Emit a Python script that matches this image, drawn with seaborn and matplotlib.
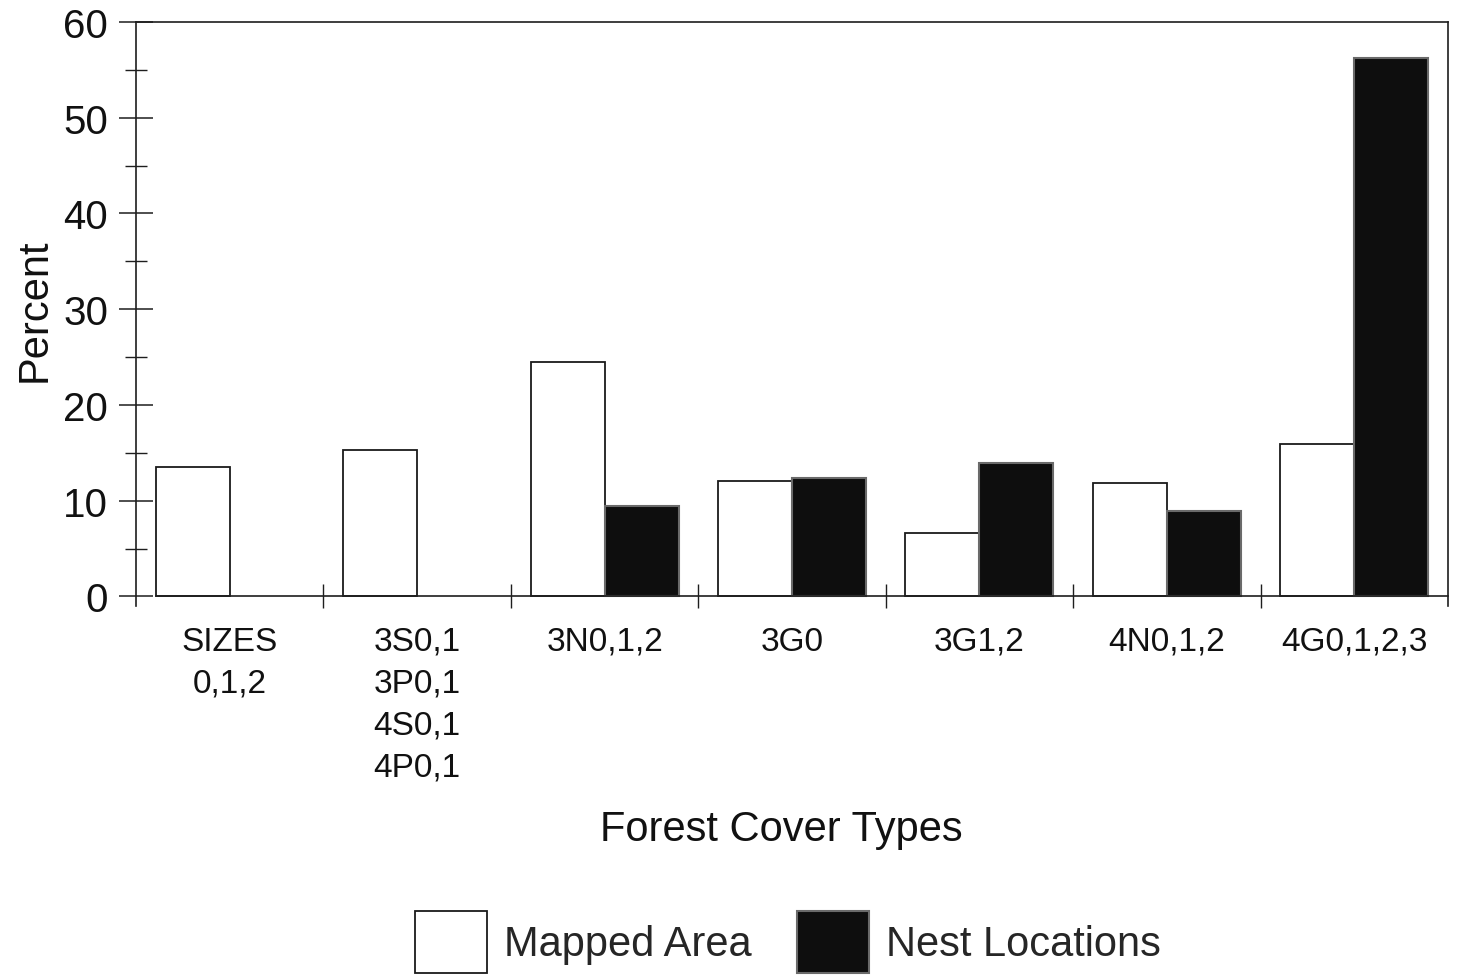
import numpy as np
import pandas as pd
import seaborn as sns
import matplotlib
matplotlib.use("Agg")
import matplotlib.pyplot as plt
from matplotlib.ticker import FixedLocator

# Forest cover categories and percentages for each series
cover_types = [
    "SIZES\n0,1,2",
    "3S0,1\n3P0,1\n4S0,1\n4P0,1",
    "3N0,1,2",
    "3G0",
    "3G1,2",
    "4N0,1,2",
    "4G0,1,2,3",
]
mapped_area = [13.5, 15.3, 24.5, 12.1, 6.6, 11.8, 15.9]
nest_locations = [0.0, 0.0, 9.5, 12.4, 13.9, 8.9, 56.2]
series_names = ["Mapped Area", "Nest Locations"]
y_ticks = [0, 10, 20, 30, 40, 50, 60]

df = pd.DataFrame({
    "cover": cover_types * 2,
    "series": [series_names[0]] * len(cover_types) + [series_names[1]] * len(cover_types),
    "percent": mapped_area + nest_locations,
})

sns.set_theme(style="white")
plt.rcParams["font.family"] = ["Liberation Sans", "DejaVu Sans"]

fig = plt.figure(figsize=(14.59, 9.78), dpi=100)
ax = fig.add_axes([0.0932, 0.3793, 0.8993, 0.5972])

sns.barplot(
    data=df, x="cover", y="percent", hue="series",
    order=cover_types, hue_order=series_names,
    palette=["#ffffff", "#0e0e0e"], saturation=1,
    width=0.79, gap=0, legend=False, ax=ax,
)

# Outline styles for the two series
for bar in ax.containers[0]:
    bar.set_edgecolor("#1a1a1a")
    bar.set_linewidth(1.3)
for bar in ax.containers[1]:
    bar.set_edgecolor("#6a6a6a")
    bar.set_linewidth(1.5)
    if bar.get_height() == 0:
        bar.set_visible(False)

ax.set_xlim(-0.5, len(cover_types) - 0.5)
ax.set_ylim(-1, 60)

# Frame
for side in ["left", "right", "top", "bottom"]:
    ax.spines[side].set_visible(True)
    ax.spines[side].set_color("#1e1e1e")
    ax.spines[side].set_linewidth(1.2)
ax.spines["bottom"].set_position(("data", 0))
first_left = ax.containers[0][0].get_x()
ax.spines["bottom"].set_bounds(first_left, len(cover_types) - 0.5)

# Y axis ticks
ax.yaxis.set_major_locator(FixedLocator(y_ticks))
ax.yaxis.set_minor_locator(FixedLocator([5, 15, 25, 35, 45, 55]))
ax.tick_params(axis="y", which="major", direction="inout", length=24, width=1.1,
               color="#1e1e1e", labelsize=29, pad=8, left=True, labelcolor="#111111")
ax.tick_params(axis="y", which="minor", direction="inout", length=16, width=1.0,
               color="#1e1e1e", left=True)

# X axis: labels at category centres, tick marks at group boundaries
ax.xaxis.set_minor_locator(FixedLocator(np.arange(0.5, len(cover_types) - 1, 1.0)))
ax.tick_params(axis="x", which="major", length=0, labelsize=24, pad=21,
               labelcolor="#111111")
ax.tick_params(axis="x", which="minor", direction="inout", length=17, width=1.0,
               color="#1e1e1e", bottom=True)
for lab in ax.get_xticklabels():
    lab.set_linespacing(1.45)

ax.set_xlabel("Forest Cover Types", fontsize=30, color="#111111")
ax.xaxis.label.set_verticalalignment("center")
ax.xaxis.set_label_coords(0.4916, -0.381)
ax.set_ylabel("Percent", fontsize=30, color="#111111")
ax.yaxis.label.set_verticalalignment("center")
ax.yaxis.set_label_coords(-0.077, 0.509)

# Legend keyed on a visible bar of each series
legend_handles = [ax.containers[0][-1], ax.containers[1][-1]]
ax.legend(
    handles=legend_handles, labels=series_names,
    loc="center", bbox_to_anchor=(0.540, 0.0358), bbox_transform=fig.transFigure,
    ncol=2, frameon=False, fontsize=30, handlelength=1.73, handleheight=1.91,
    handletextpad=0.41, columnspacing=1.1,
)

fig.savefig("out.png", dpi=100)
